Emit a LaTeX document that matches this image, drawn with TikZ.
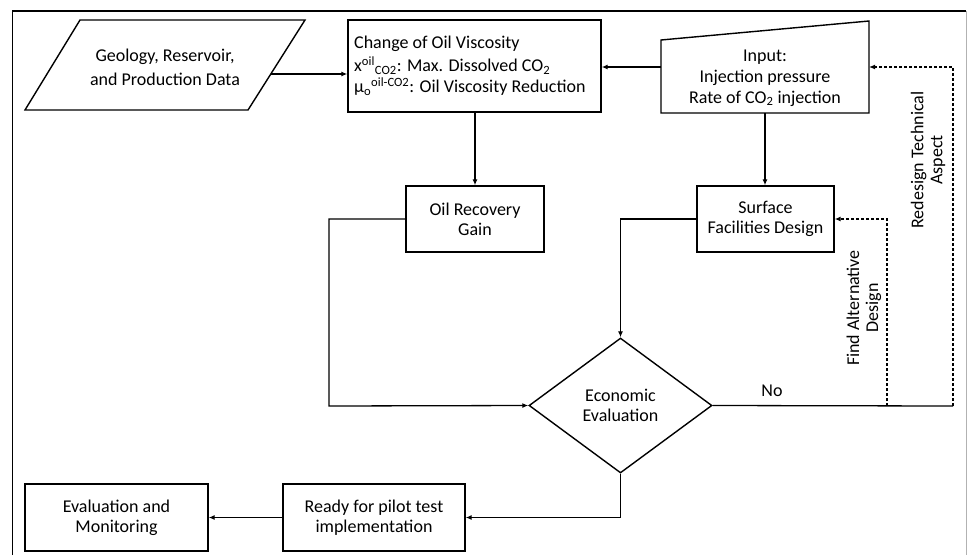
\documentclass[tikz,border=0pt]{standalone}
\usepackage{fontspec}
\setmainfont{Carlito}
\usetikzlibrary{shapes.geometric,arrows.meta,calc}
\begin{document}
\begin{tikzpicture}[x=1pt,y=-1pt,
  every node/.style={font=\fontsize{18}{22}\selectfont},
  box/.style={draw,line width=1.4pt,rectangle,inner sep=0pt,align=center},
  txt/.style={inner sep=0pt,align=center},
  conn/.style={line width=1.3pt,-{Latex[length=6pt,width=5pt]}},
  plain/.style={line width=1.3pt},
  dashconn/.style={line width=1.2pt,dash pattern=on 3pt off 2pt,-{Latex[length=6pt,width=5pt]}},
  dashplain/.style={line width=1.2pt,dash pattern=on 3pt off 2pt},
  shapeline/.style={line width=1.4pt,line join=miter}]
\useasboundingbox (0,0) rectangle (967,555);
% frame
\draw[line width=1.8pt] (12.5,555) -- (12.5,11) -- (966,11);
\draw[line width=0.8pt,gray!60] (966,11) -- (966,555);

% parallelogram
\draw[shapeline] (80,20) -- (305,20) -- (248,110) -- (25,110) -- cycle;
\node[txt] (geo) at (165,67) {Geology, Reservoir,\\[2pt]and Production Data};
\coordinate (geoR) at (271,74);

% viscosity box
\node[box,minimum width=253pt,minimum height=92pt] (visc) at (474.5,66) {};
\node[txt,anchor=west,align=left] (visctxt) at (354,66) {Change of Oil Viscosity\\[1pt]
x\textsuperscript{oil}\textsubscript{CO2}: Max. Dissolved CO\textsubscript{2}\\[-1pt]
μ\textsubscript{o}\textsuperscript{oil-CO2}: Oil Viscosity Reduction};

% input trapezoid
\draw[shapeline] (661,40) -- (869,21) -- (869,113) -- (661,113) -- cycle;
\node[txt] (inp) at (765,78) {Input:\\[-1pt]Injection pressure\\[-1pt]Rate of CO\textsubscript{2} injection};
\coordinate (inL) at (661,67);
\coordinate (inR) at (869,67);
\coordinate (inB) at (765,113);

% boxes
\node[box,minimum width=138pt,minimum height=66pt] (recov) at (475,219) {Oil Recovery\\[-2pt]Gain};
\node[box,minimum width=137pt,minimum height=66pt] (surf) at (765.5,219) {Surface\\[-2pt]Facilities Design};
\node[draw,diamond,line width=1.4pt,inner sep=0pt,minimum width=183pt,minimum height=135pt,align=center] (dia) at (620.5,405.5) {Economic\\[-2pt]Evaluation};
\node[box,minimum width=182pt,minimum height=67pt] (ready) at (374,517.5) {Ready for pilot test\\[-2pt]implementation};
\node[box,minimum width=183pt,minimum height=67pt] (evalm) at (116.5,517.5) {Evaluation and\\[-2pt]Monitoring};

% connectors
\draw[conn] (geoR) -- (visc.west |- geoR);
\draw[conn] (inL) -- (visc.east |- inL);
\draw[conn] (visc.south -| recov.north) -- (recov.north);
\draw[conn] (inB) -- (inB |- surf.north);
\draw[conn] (recov.west) -- (329,219) -- (329,406) -- (dia.west);
\draw[conn] (surf.west) -- (620.5,219) -- (dia.north);
\draw[conn] (dia.south) -- (dia.south |- ready.east) -- (ready.east);
\draw[conn] (ready.west) -- (evalm.east);

\coordinate (rt) at (953,406);
\coordinate (fa) at (887,406);
\draw[plain] (dia.east) -- (rt);
\node[txt] (no) at (772,391) {No};
\draw[dashconn] (fa) -- (887,219) -- (surf.east);
\draw[dashconn] (rt) -- (953,67) -- (inR);
\node[txt,rotate=90] (fad) at (864,308) {Find Alternative\\[-3pt]Design};
\node[txt,rotate=90] (rta) at (928,160) {Redesign Technical\\[-3pt]Aspect};
\end{tikzpicture}
\end{document}
